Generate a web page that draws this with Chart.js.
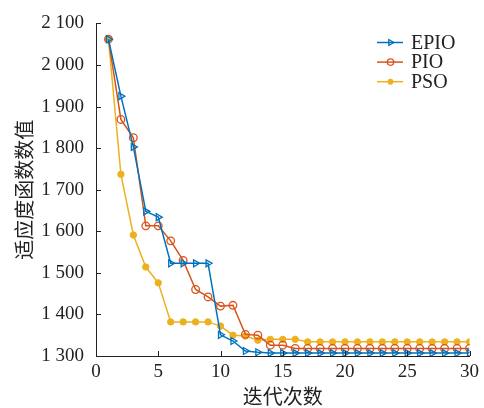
<!DOCTYPE html>
<html lang="zh">
  <head>
    <meta charset="UTF-8" />
    <title>适应度函数数值</title>
    <script src="https://cdn.jsdelivr.net/npm/chart.js@4.4.0/dist/chart.umd.min.js"></script>
    <style>
      html, body {
        margin: 0;
        padding: 0;
        background: #fff;
      }
      .chart-container {
        width: 484px;
        height: 408px;
      }
    </style>
  </head>
  <body>
    <div class="chart-container">
      <canvas id="myChart"></canvas>
    </div>

    <script>
      // iterations 1..30
      const iterations = [1, 2, 3, 4, 5, 6, 7, 8, 9, 10, 11, 12, 13, 14, 15, 16, 17, 18, 19, 20, 21, 22, 23, 24, 25, 26, 27, 28, 29, 30];

      const epio = [2062, 1925, 1803, 1648, 1634, 1523, 1523, 1523, 1523, 1351, 1336, 1312, 1309, 1307, 1307, 1307, 1307, 1307, 1307, 1307, 1307, 1307, 1307, 1307, 1307, 1307, 1307, 1307, 1307, 1307];
      const pio = [2062, 1869, 1825, 1613, 1613, 1577, 1530, 1460, 1442, 1420, 1422, 1352, 1350, 1326, 1326, 1318, 1318, 1318, 1318, 1318, 1318, 1318, 1318, 1318, 1318, 1318, 1318, 1318, 1318, 1318];
      const pso = [2062, 1737, 1591, 1514, 1476, 1382, 1382, 1382, 1382, 1372, 1350, 1348, 1338, 1340, 1340, 1340, 1334, 1334, 1334, 1334, 1334, 1334, 1334, 1334, 1334, 1334, 1334, 1334, 1334, 1334];

      const xTicks = [0, 5, 10, 15, 20, 25, 30];
      const yTicks = [1300, 1400, 1500, 1600, 1700, 1800, 1900, 2000, 2100];

      const seriesNames = ["EPIO", "PIO", "PSO"];
      const colors = ["#0072BD", "#D95319", "#EDB120"];

      function toPoints(arr) {
        return arr.map((v, i) => ({ x: iterations[i], y: v }));
      }

      function fmt(v) {
        // space as thousands separator like "2 100"
        const s = String(v);
        return s.length > 3 ? s.slice(0, s.length - 3) + " " + s.slice(-3) : s;
      }

      const serif = "'Liberation Serif', 'DejaVu Serif', serif";
      const cjk = "'Noto Sans CJK SC', sans-serif";

      // short ticks pointing into the plot, like the original figure
      const innerTicks = {
        id: "innerTicks",
        afterDraw(chart) {
          const c = chart.ctx;
          const xs = chart.scales.x;
          const ys = chart.scales.y;
          c.save();
          c.strokeStyle = "#222";
          c.lineWidth = 1;
          c.beginPath();
          xTicks.forEach((t) => {
            const px = Math.round(xs.getPixelForValue(t)) + 0.5;
            c.moveTo(px, ys.bottom);
            c.lineTo(px, ys.bottom - 5);
          });
          yTicks.forEach((t) => {
            const py = Math.round(ys.getPixelForValue(t)) + 0.5;
            c.moveTo(xs.left, py);
            c.lineTo(xs.left + 5, py);
          });
          c.stroke();
          c.restore();
        },
      };

      // legend drawn inside the plot, top right, line + marker
      const innerLegend = {
        id: "innerLegend",
        afterDraw(chart) {
          const c = chart.ctx;
          c.save();
          c.textBaseline = "middle";
          chart.data.datasets.forEach((ds, i) => {
            const y = 42.5 + i * 19.6;
            c.strokeStyle = ds.borderColor;
            c.lineWidth = 1.5;
            c.beginPath();
            c.moveTo(377, y);
            c.lineTo(403, y);
            c.stroke();
            c.fillStyle = ds.pointBackgroundColor;
            c.strokeStyle = ds.pointBorderColor;
            c.lineWidth = ds.pointBorderWidth;
            Chart.helpers.drawPoint(c, {
              pointStyle: ds.pointStyle,
              radius: ds.pointRadius - 0.6,
              rotation: ds.pointRotation || 0,
              borderWidth: ds.pointBorderWidth,
            }, 390.5, y);
            c.fillStyle = "#222";
            c.font = "20px " + serif;
            c.fillText(seriesNames[i], 411, y + 1);
          });
          c.restore();
        },
      };

      const ctx = document.getElementById("myChart").getContext("2d");
      const myChart = new Chart(ctx, {
        type: "line",
        data: {
          datasets: [
            {
              label: seriesNames[0],
              data: toPoints(epio),
              borderColor: colors[0],
              backgroundColor: "rgba(255,255,255,0)",
              borderWidth: 1.5,
              pointStyle: "triangle",
              pointRotation: 90,
              pointRadius: 4,
              pointBorderWidth: 1.3,
              pointBorderColor: colors[0],
              pointBackgroundColor: "rgba(255,255,255,0)",
              tension: 0,
            },
            {
              label: seriesNames[1],
              data: toPoints(pio),
              borderColor: colors[1],
              backgroundColor: "rgba(255,255,255,0)",
              borderWidth: 1.5,
              pointStyle: "circle",
              pointRadius: 3.8,
              pointBorderWidth: 1.3,
              pointBorderColor: colors[1],
              pointBackgroundColor: "rgba(255,255,255,0)",
              tension: 0,
            },
            {
              label: seriesNames[2],
              data: toPoints(pso),
              borderColor: colors[2],
              backgroundColor: colors[2],
              borderWidth: 1.5,
              pointStyle: "circle",
              pointRadius: 3.2,
              pointBorderWidth: 1,
              pointBorderColor: colors[2],
              pointBackgroundColor: colors[2],
              tension: 0,
            },
          ],
        },
        options: {
          responsive: true,
          maintainAspectRatio: false,
          animation: false,
          layout: {
            padding: { left: 0, right: 9, top: 21, bottom: 0 },
          },
          scales: {
            x: {
              type: "linear",
              min: 0,
              max: 30,
              afterBuildTicks: (scale) => {
                scale.ticks = xTicks.map((v) => ({ value: v }));
              },
              afterFit: (scale) => {
                scale.height = 52;
              },
              grid: { display: true, drawOnChartArea: false, drawTicks: false },
              border: { display: true, color: "#222", width: 1 },
              ticks: {
                color: "#222",
                padding: 5,
                maxRotation: 0,
                font: { family: serif, size: 19 },
              },
              title: {
                display: true,
                text: "迭代次数",
                color: "#222",
                padding: { top: 0, bottom: 0 },
                font: { family: cjk, size: 20 },
              },
            },
            y: {
              min: 1300,
              max: 2100,
              afterBuildTicks: (scale) => {
                scale.ticks = yTicks.map((v) => ({ value: v }));
              },
              afterFit: (scale) => {
                scale.width = 96;
              },
              grid: { display: true, drawOnChartArea: false, drawTicks: false },
              border: { display: true, color: "#222", width: 1 },
              ticks: {
                color: "#222",
                padding: 12,
                font: { family: serif, size: 19 },
                callback: (v) => fmt(v),
              },
              title: {
                display: true,
                text: "适应度函数数值",
                color: "#222",
                padding: { top: 12, bottom: 0 },
                font: { family: cjk, size: 20 },
              },
            },
          },
          plugins: {
            legend: { display: false },
            tooltip: { enabled: false },
          },
        },
        plugins: [innerTicks, innerLegend],
      });
    </script>
  </body>
</html>
